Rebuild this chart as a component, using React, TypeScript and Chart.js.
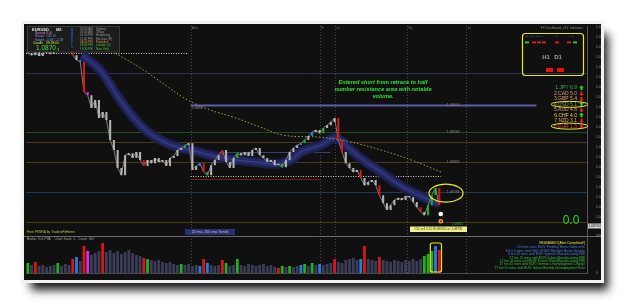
import React, { useEffect, useRef } from 'react';
import { Chart, registerables } from 'chart.js';

Chart.register(...registerables);

// ---------- DATA ----------
const SLOTS = 150;

const timeLabels = [
  '29 Feb 01:00', '29 Feb 01:25', '29 Feb 01:50', '29 Feb 02:15', '29 Feb 02:40', '29 Feb 03:05',
  '29 Feb 03:30', '29 Feb 03:55', '29 Feb 04:20', '29 Feb 04:45', '29 Feb 05:10', '29 Feb 05:35',
  '29 Feb 06:00', '29 Feb 06:25', '29 Feb 06:50', '29 Feb 07:15', '29 Feb 07:40', '29 Feb 08:05',
  '29 Feb 08:30', '29 Feb 08:55', '29 Feb 09:20', '29 Feb 09:45', '29 Feb 10:10', '29 Feb 10:35',
  '29 Feb 11:00', '29 Feb 11:25', '29 Feb 11:50', '29 Feb 12:15', '29 Feb 12:40', '29 Feb 13:05',
];

const priceTicks = [
  1.087, 1.08725, 1.0875, 1.08775, 1.088, 1.08825, 1.0885, 1.08875, 1.089, 1.08925, 1.0895,
  1.08975, 1.09, 1.09025, 1.0905, 1.09075, 1.091, 1.09125, 1.0915, 1.09175, 1.092,
];

const closes = [
  1.09135, 1.0913, 1.09138, 1.09128, 1.09135, 1.0914, 1.09133, 1.09138, 1.09148, 1.09153,
  1.09155, 1.0915, 1.0913, 1.09118, 1.09113, 1.09038, 1.0903, 1.08998, 1.09018, 1.08973,
  1.08988, 1.08968, 1.08918, 1.08893, 1.08848, 1.0883, 1.0888, 1.08885, 1.08873, 1.08888,
  1.08868, 1.08853, 1.08868, 1.0886, 1.08873, 1.08863, 1.08868, 1.08853, 1.08873, 1.08878,
  1.08893, 1.08898, 1.08905, 1.0891, 1.08843, 1.08853, 1.0886, 1.08838, 1.0883, 1.08855,
  1.08868, 1.0888, 1.08893, 1.08863, 1.08848, 1.08873, 1.08885, 1.0888, 1.08888, 1.08878,
  1.08893, 1.08898, 1.0888, 1.08873, 1.08863, 1.08868, 1.08855, 1.08858, 1.0885, 1.08868,
  1.08888, 1.08898, 1.08905, 1.0891, 1.08918, 1.08928, 1.08938, 1.08943, 1.08935, 1.08948,
  1.08955, 1.08963, 1.08973, 1.08918, 1.08888, 1.0886, 1.08848, 1.08838, 1.08843, 1.08823,
  1.08805, 1.08813, 1.08818, 1.08805, 1.0878, 1.0876, 1.08743, 1.08755, 1.08768, 1.08773,
  1.08768, 1.08778, 1.08775, 1.08763, 1.0875, 1.08738, 1.0873, 1.08755, 1.0878, 1.08798,
  1.08755,
];

const volumes = [
  100, 80, 110, 70, 80, 60, 70, 80, 100, 70, 90, 80, 140, 160, 120, 270, 220, 180, 200, 220,
  300, 210, 230, 200, 220, 190, 210, 230, 200, 180, 170, 150, 140, 130, 120, 130, 110, 100, 110, 90,
  80, 90, 80, 90, 70, 80, 70, 140, 100, 80, 70, 80, 130, 100, 70, 80, 140, 80, 70, 90,
  80, 70, 80, 90, 70, 80, 60, 50, 70, 60, 70, 60, 70, 80, 90, 70, 100, 80, 90, 80,
  90, 100, 140, 110, 100, 130, 140, 150, 130, 140, 270, 140, 130, 120, 160, 130, 120, 110, 130, 120,
  110, 130, 120, 140, 120, 140, 170, 190, 220, 270, 230,
];

const redCandles = [12, 15, 31, 47, 52, 83, 84, 89, 94, 105, 110];
const greenCandles = [42, 48, 56, 68, 74, 79, 107, 108, 109];
const blueCandles = [14, 46, 73, 76];
const magentaCandles = [16];

const redVolumes = [2, 12, 15, 20, 31, 47, 52, 67, 82, 90, 94, 110];
const greenVolumes = [0, 8, 32, 41, 53, 56, 68, 70, 74, 76, 106, 107, 108];
const blueVolumes = [13, 46, 48, 73, 78, 89, 109];
const magentaVolumes = [16];

const emaFastSlots = [14.5, 19.3, 24.7, 30.1, 35.4, 40.8, 43.5, 48.8, 54.2, 60.9, 66.3, 70.3, 73, 78.3, 82.3, 86.4, 90.4, 94.4, 99.8, 105.1, 110];
const emaFastValues = [1.0913, 1.09093, 1.09018, 1.08955, 1.08918, 1.08898, 1.08893, 1.0888, 1.0887, 1.08863, 1.08858, 1.08868, 1.08888, 1.08905, 1.08923, 1.08893, 1.08863, 1.08838, 1.08803, 1.08778, 1.08758];

const emaSlowSlots = [23.4, 30.1, 36.8, 42.7, 48.8, 55, 62.2, 68.4, 78.3, 82.3, 86.4, 94.4, 102.5, 110.5];
const emaSlowValues = [1.09135, 1.09098, 1.09055, 1.09018, 1.08993, 1.08975, 1.0895, 1.0893, 1.08925, 1.0892, 1.08913, 1.08893, 1.08868, 1.08838];

const fullLevels = [1.09085, 1.08913, 1.08938, 1.08863, 1.08788, 1.08713];
const labelledLevels = [1.09006, 1.08938, 1.08863, 1.08788];

const segLevels = [1.09135, 1.09006, 1.08888, 1.08828, 1.0882];
const segStart = [-0.5, 43.5, 43.5, 43.5, 43.5];
const segEnd = [43, 136, 81, 110.5, 78];

const sessionSlots = [43.5, 78.1, 82.1, 101.4, 117.2];
const sessionNames = ['Asia', 'Fr', 'Lo', 'Ny', 'Lo'];

const bidPrice = 1.08703;
const circleSlot = 110.4;
const exitMarkPrice = 1.08733;
const entryMarkPrice = 1.08715;
const ellipsePrice = 1.08785;
const ellipseSlot = 111.8;

const strengthNames = ['1.JPY 6.9', '2.CAD 5.0', '3.GBP 5.4', '4.USD 5.1', '5.AUD 4.6', '6.CHF 4.0', '7.NZD 3.1', '8.EUR 1.3'];
const strengthUp = [true, false, false, true, false, true, false, false];

const newsLines = [
  'RELEASED! [Alert Completed!]',
  '20 mins since EUR: Pending Home Sales m/m',
  '6 hrs 0 mins until USD: FOMC Member Bostic Speaks',
  '6 hrs 45 mins until EUR: Spanish Manufacturing PMI',
  '17 hrs 15 mins until EUR: Italian Manufacturing PMI',
  '17 hrs 45 mins until EUR: French Final Manufacturing PMI',
  '17 hrs 45 mins until EUR: German Unemployment Change',
  '17 hrs 55 mins until EUR: Italian Monthly Unemployment Rate',
];

const sessionTimes = ['03:00 AM', '07:00 AM', '07:00 PM', '11:00 PM', '08:00 PM', '08:00 PM', '13:30 PM'];
const sessionCities = ['Sydney', 'Tokyo', 'HongKong', 'Moscow (R)', 'Frankfurt', 'London (X)', 'New York'];

// ---------- STYLE ----------
const FONT = '"Liberation Sans", Arial, sans-serif';
const levelColors = ['#2a2e58', '#4a3a1a', '#1d4d1d', '#4a3a1a', '#1f3a5e', '#4a3a1a'];
const segColors = ['#cfcfcf', '#5a5fa8', '#3c4070', '#cfcfcf', '#7a1a1a'];
const segWidths = [1, 2, 1, 1, 1.2];
const segDashed = [true, false, false, true, false];
const strengthColors = ['#3cb043', '#e0a070', '#e0a070', '#8a8a3a', '#e0a070', '#e8d050', '#e0a070', '#d04030'];
const newsColors = ['#e8e840', '#4a7ae8', '#4a7ae8', '#4a7ae8', '#3ac03a', '#3ac03a', '#3ac03a', '#3ac03a'];
const timeColors = ['#999', '#999', '#999', '#999', '#e09030', '#40c040', '#40c040'];

function pick(i: number, red: number[], green: number[], blue: number[], mag: number[], base: string) {
  if (red.includes(i)) return '#d81818';
  if (green.includes(i)) return '#22b022';
  if (blue.includes(i)) return '#2080e0';
  if (mag.includes(i)) return '#d030e0';
  return base;
}

function text(ctx: CanvasRenderingContext2D, s: string, x: number, y: number, color: string, font: string, align: CanvasTextAlign = 'left') {
  ctx.fillStyle = color;
  ctx.font = font;
  ctx.textAlign = align;
  ctx.textBaseline = 'middle';
  ctx.fillText(s, x, y);
}

const framePlugin = {
  id: 'frame',
  beforeDraw(chart: any) {
    const ctx: CanvasRenderingContext2D = chart.ctx;
    const xs = chart.scales.x;
    const ys = chart.scales.y;
    const area = chart.chartArea;
    ctx.save();
    ctx.fillStyle = '#ffffff';
    ctx.fillRect(0, 0, chart.width, chart.height);
    // drop shadow
    ctx.shadowColor = 'rgba(0,0,0,0.9)';
    ctx.shadowBlur = 9;
    ctx.shadowOffsetX = 7;
    ctx.shadowOffsetY = 10;
    ctx.fillStyle = '#202020';
    ctx.fillRect(24, 24, 577, 256);
    ctx.shadowColor = 'transparent';
    ctx.fillStyle = '#f2f2f2';
    ctx.fillRect(21, 21, 583, 262);
    ctx.fillStyle = '#101010';
    ctx.fillRect(24, 24, 577, 256);

    const left = area.left;
    const right = area.right;
    // full width levels
    fullLevels.forEach((v, k) => {
      const y = Math.round(ys.getPixelForValue(v)) + 0.5;
      ctx.strokeStyle = levelColors[k];
      ctx.lineWidth = 1;
      ctx.beginPath();
      ctx.moveTo(left, y);
      ctx.lineTo(right, y);
      ctx.stroke();
    });
    // session separators
    ctx.setLineDash([1, 2]);
    ctx.strokeStyle = '#4a4a4a';
    sessionSlots.forEach((s) => {
      const x = Math.round(xs.getPixelForValue(s)) + 0.5;
      ctx.beginPath();
      ctx.moveTo(x, area.top);
      ctx.lineTo(x, area.bottom);
      ctx.stroke();
    });
    ctx.setLineDash([]);
    // partial segments
    segLevels.forEach((v, k) => {
      const y = Math.round(ys.getPixelForValue(v)) + 0.5;
      ctx.strokeStyle = segColors[k];
      ctx.lineWidth = segWidths[k];
      ctx.setLineDash(segDashed[k] ? [1, 1.5] : []);
      ctx.beginPath();
      ctx.moveTo(xs.getPixelForValue(segStart[k]), y);
      ctx.lineTo(xs.getPixelForValue(segEnd[k]), y);
      ctx.stroke();
    });
    ctx.setLineDash([]);
    // panel separator
    const sep = Math.round(chart.scales.yv.top) + 0.5;
    ctx.strokeStyle = '#6a6a6a';
    ctx.lineWidth = 1;
    ctx.beginPath();
    ctx.moveTo(24, sep);
    ctx.lineTo(601, sep);
    ctx.stroke();
    ctx.restore();
  },
  afterDraw(chart: any) {
    const ctx: CanvasRenderingContext2D = chart.ctx;
    const xs = chart.scales.x;
    const ys = chart.scales.y;
    const vs = chart.scales.yv;
    ctx.save();

    // level labels
    labelledLevels.forEach((v) => {
      text(ctx, v.toFixed(5), xs.getPixelForValue(112), ys.getPixelForValue(v), '#8a8a8a', `3.5px ${FONT}`);
    });
    text(ctx, labelledLevels[0].toFixed(5), xs.getPixelForValue(43.8), ys.getPixelForValue(labelledLevels[0]) + 3, '#8a8a8a', `3px ${FONT}`);

    // session names
    sessionSlots.forEach((s, k) => {
      text(ctx, sessionNames[k], xs.getPixelForValue(s) + 1.5, 28, '#777', `3px ${FONT}`);
    });

    // info box
    ctx.fillStyle = '#1c1c1c';
    ctx.fillRect(27, 26.5, 92, 25.5);
    ctx.strokeStyle = '#3a3a3a';
    ctx.strokeRect(27.5, 26.5, 92, 25.5);
    text(ctx, 'EURUSD', 32, 29.5, '#e0e0e0', `bold 4px ${FONT}`);
    text(ctx, 'M5', 56, 29.5, '#e0e0e0', `bold 4px ${FONT}`);
    text(ctx, 'Spread', 35, 33, '#d080d0', `3.2px ${FONT}`);
    text(ctx, '0.00', 46, 33, '#d080d0', `3.2px ${FONT}`);
    text(ctx, 'Range', 35, 36.5, '#a070e0', `3.2px ${FONT}`);
    text(ctx, '108.19', 46, 36.5, '#7090e0', `3.2px ${FONT}`);
    text(ctx, 'Swaps', 35, 40, '#60a0e0', `3.2px ${FONT}`);
    text(ctx, '-0.69 / -2.28', 46, 40, '#60a0e0', `3.2px ${FONT}`);
    text(ctx, 'Candle', 33, 43.5, '#e0e040', `3.2px ${FONT}`);
    text(ctx, '03:18:00', 46, 43.5, '#e0e040', `3.2px ${FONT}`);
    text(ctx, '1.0870', 36, 48.5, '#40e040', `6.5px ${FONT}`);
    text(ctx, '3', 57, 49.5, '#40e040', `4px ${FONT}`);
    'MARKETS'.split('').forEach((c, k) => {
      text(ctx, c, 72, 30 + k * 2.8, '#3050c0', `bold 3px ${FONT}`, 'center');
    });
    sessionTimes.forEach((t, k) => {
      text(ctx, t, 80, 29 + k * 3.3, timeColors[k], `3px ${FONT}`);
      text(ctx, sessionCities[k], 96, 29 + k * 3.3, timeColors[k], `3px ${FONT}`);
    });

    // annotation text
    const ann = ['Entered short from retrace to half', 'number resistance area with notable', 'volume.'];
    ann.forEach((s, k) => text(ctx, s, 383, 82 + k * 7, '#30e030', `italic bold 5.6px ${FONT}`, 'center'));

    // dashboard
    text(ctx, 'FX: Dashboard_v3.4_Indicators', 583, 28, '#8a8a8a', `3px ${FONT}`, 'right');
    ctx.strokeStyle = '#e8e820';
    ctx.lineWidth = 1.2;
    ctx.beginPath();
    (ctx as any).roundRect(522.5, 33.5, 61, 42, 3);
    ctx.stroke();
    text(ctx, 'M1 M5 M15M30', 525, 36.5, '#6a6a9a', `2.5px ${FONT}`);
    text(ctx, 'H1', 555, 36.5, '#6a6a9a', `2.5px ${FONT}`);
    text(ctx, 'H4 D1', 567, 36.5, '#6a6a9a', `2.5px ${FONT}`);
    const dashX = [525, 532, 537, 542, 555, 567, 573];
    const dashC = ['#22dd22', '#e02020', '#e02020', '#e02020', '#e02020', '#e02020', '#22dd22'];
    dashX.forEach((x, k) => { ctx.fillStyle = dashC[k]; ctx.fillRect(x, 41.5, 4, 1.8); });
    text(ctx, 'H1', 546, 57, '#a0a0a0', `bold 6px ${FONT}`, 'center');
    text(ctx, 'D1', 558, 57, '#a0a0a0', `bold 6px ${FONT}`, 'center');
    ctx.fillStyle = '#ee1010';
    ctx.fillRect(546, 68, 7, 4);
    ctx.fillRect(557, 68, 7, 4);

    // currency strength
    strengthNames.forEach((s, k) => {
      const y = 88 + k * 5.45;
      text(ctx, s, 577, y, strengthColors[k], `5px ${FONT}`, 'right');
      const up = strengthUp[k];
      ctx.fillStyle = up ? '#22dd22' : '#ee2020';
      ctx.beginPath();
      if (up) { ctx.moveTo(580.5, y + 2); ctx.lineTo(580.5, y - 0.5); ctx.lineTo(579, y - 0.5); ctx.lineTo(581.5, y - 2.5); ctx.lineTo(584, y - 0.5); ctx.lineTo(582.5, y - 0.5); ctx.lineTo(582.5, y + 2); }
      else { ctx.moveTo(580.5, y - 2); ctx.lineTo(580.5, y + 0.5); ctx.lineTo(579, y + 0.5); ctx.lineTo(581.5, y + 2.5); ctx.lineTo(584, y + 0.5); ctx.lineTo(582.5, y + 0.5); ctx.lineTo(582.5, y - 2); }
      ctx.closePath();
      ctx.fill();
    });
    ctx.strokeStyle = '#e8e820';
    ctx.lineWidth = 1;
    [3, 7].forEach((k) => {
      const y = 88 + k * 5.45;
      ctx.beginPath();
      ctx.ellipse(569.5, y, 18.5, 3, 0, 0, Math.PI * 2);
      ctx.stroke();
    });

    // big 0.0
    text(ctx, '0.0', 571, 221, '#22dd22', `12px ${FONT}`, 'center');

    // ellipse around retrace
    ctx.strokeStyle = '#e8e820';
    ctx.lineWidth = 1.2;
    ctx.beginPath();
    ctx.ellipse(xs.getPixelForValue(ellipseSlot), ys.getPixelForValue(ellipsePrice), 17, 9, 0, 0, Math.PI * 2);
    ctx.stroke();

    // trade markers
    const cx = xs.getPixelForValue(circleSlot);
    ctx.fillStyle = '#ffffff';
    ctx.beginPath(); ctx.arc(cx, ys.getPixelForValue(exitMarkPrice), 2.3, 0, Math.PI * 2); ctx.fill();
    ctx.fillStyle = '#e8c020';
    ctx.beginPath(); ctx.arc(cx, ys.getPixelForValue(entryMarkPrice), 2.3, 0, Math.PI * 2); ctx.fill();
    ctx.fillStyle = '#e02020';
    ctx.beginPath(); ctx.arc(cx, ys.getPixelForValue(entryMarkPrice), 1.2, 0, Math.PI * 2); ctx.fill();
    ctx.fillStyle = '#f0f090';
    ctx.fillRect(410, 226.5, 57, 5.5);
    text(ctx, '#52 sell 0.10 EURUSD at 1.08781', 438.5, 229.3, '#404000', `3.2px ${FONT}`, 'center');
    text(ctx, '1.08781', 452, 224.5, '#30c030', `3px ${FONT}`);

    // bid label on axis
    const by = ys.getPixelForValue(bidPrice);
    ctx.fillStyle = '#d0d0d0';
    ctx.fillRect(588, by - 2.5, 13, 5);
    text(ctx, bidPrice.toFixed(5), 594.5, by, '#202020', `3.5px ${FONT}`, 'center');

    // bottom-left labels
    text(ctx, 'Free PVSRA by TradersFxHome', 27, 232, '#c8c840', `3.3px ${FONT}`);
    ctx.fillStyle = '#283070';
    ctx.fillRect(185, 229, 50, 6);
    text(ctx, '20 ema, 200 ema Trends', 210, 232, '#c0c0d0', `3.3px ${FONT}`, 'center');
    text(ctx, 'Broker Tick PVA    Chart Scale  2,  Count  300', 27, 239.5, '#a0a0a0', `3.3px ${FONT}`);

    // volume highlight rect
    ctx.strokeStyle = '#e8e820';
    ctx.lineWidth = 1.2;
    const rx0 = xs.getPixelForValue(107.6);
    const rx1 = xs.getPixelForValue(110.6);
    const ry0 = vs.getPixelForValue(300);
    const ry1 = vs.getPixelForValue(10);
    ctx.beginPath();
    (ctx as any).roundRect(rx0, ry0, rx1 - rx0, ry1 - ry0, 2);
    ctx.stroke();

    // news lines
    const newsY = [243.3, 247.5, 251, 254.5, 258, 261.2, 264.4, 267.6];
    newsLines.forEach((s, k) => text(ctx, s, 585, newsY[k], newsColors[k], `3.3px ${FONT}`, 'right'));

    ctx.restore();
  },
};

export default function App() {
  const ref = useRef<HTMLCanvasElement | null>(null);
  useEffect(() => {
    document.body.style.margin = '0';
    const canvas = ref.current;
    if (!canvas) return;
    const closePts = closes.map((c, i) => ({ x: i, y: c }));
    const candlePts = closes.map((c, i) => ({ x: i, y: [i === 0 ? c : closes[i - 1], c] }));
    const candleColors = closes.map((_, i) => pick(i, redCandles, greenCandles, blueCandles, magentaCandles, '#b4b4b4'));
    const volPts = volumes.map((v, i) => ({ x: i, y: v }));
    const volColors = volumes.map((_, i) => pick(i, redVolumes, greenVolumes, blueVolumes, magentaVolumes, '#3b3d58'));
    const fastPts = emaFastSlots.map((s, k) => ({ x: s, y: emaFastValues[k] }));
    const slowPts = emaSlowSlots.map((s, k) => ({ x: s, y: emaSlowValues[k] }));

    const tickFont = { size: 3.4, family: FONT };
    const chart = new Chart(canvas, {
      data: {
        datasets: [
          { type: 'line', data: fastPts, borderColor: '#1b1e4c', borderWidth: 10, pointRadius: 0, tension: 0.4, order: 10, yAxisID: 'y' },
          { type: 'line', data: fastPts, borderColor: '#252a66', borderWidth: 6, pointRadius: 0, tension: 0.4, order: 9, yAxisID: 'y' },
          { type: 'line', data: fastPts, borderColor: '#3c448e', borderWidth: 1, pointRadius: 0, tension: 0.4, order: 8, yAxisID: 'y' },
          { type: 'line', data: slowPts, borderColor: '#a8a040', borderWidth: 1, borderDash: [1.5, 2], pointRadius: 0, tension: 0.4, order: 7, yAxisID: 'y' },
          { type: 'line', data: closePts, borderColor: '#7c7c7c', borderWidth: 1, pointRadius: 0, tension: 0, order: 6, yAxisID: 'y' },
          { type: 'bar', data: candlePts, backgroundColor: candleColors, barPercentage: 0.55, categoryPercentage: 1, grouped: false, minBarLength: 1, order: 5, yAxisID: 'y' },
          { type: 'bar', data: volPts, backgroundColor: volColors, barPercentage: 0.75, categoryPercentage: 1, grouped: false, order: 5, yAxisID: 'yv' },
        ],
      } as any,
      options: {
        responsive: false,
        animation: false,
        events: [],
        layout: { padding: { left: 26, top: 26, right: 24, bottom: 24 } },
        plugins: { legend: { display: false }, tooltip: { enabled: false } },
        scales: {
          x: {
            type: 'linear',
            offset: false,
            min: -0.5,
            max: SLOTS - 0.5,
            position: 'bottom',
            grid: { display: false, offset: false },
            border: { color: '#4a4a4a' },
            ticks: {
              font: tickFont, color: '#8a8a8a', padding: 1, maxRotation: 0, autoSkip: false, align: 'start',
              callback: (v: any) => timeLabels[Math.round(Number(v) / 5)] ?? '',
            },
            afterBuildTicks: (s: any) => { s.ticks = timeLabels.map((_, k) => ({ value: k * 5 })); },
            afterFit: (s: any) => { s.height = 7; },
          },
          y: {
            type: 'linear',
            position: 'right',
            stack: 'panes',
            stackWeight: 210,
            min: 1.08678,
            max: 1.09203,
            grid: { display: false },
            border: { color: '#555' },
            ticks: {
              font: tickFont, color: '#9a9a9a', padding: 1, autoSkip: false,
              callback: (v: any) => Number(v).toFixed(5),
            },
            afterBuildTicks: (s: any) => { s.ticks = priceTicks.map((v) => ({ value: v })); },
            afterFit: (s: any) => { s.width = 14; },
          },
          yv: {
            type: 'linear',
            position: 'right',
            stack: 'panes',
            stackWeight: 37,
            min: 0,
            max: 370,
            grid: { display: false },
            border: { color: '#555' },
            ticks: { font: tickFont, color: '#9a9a9a', padding: 1, autoSkip: false },
            afterBuildTicks: (s: any) => { s.ticks = [{ value: 0 }, { value: 370 }]; },
            afterFit: (s: any) => { s.width = 14; },
          },
        },
      } as any,
      plugins: [framePlugin],
    });
    return () => chart.destroy();
  }, []);
  return (
    <div style={{ position: 'fixed', left: 0, top: 0, width: 625, height: 304 }}>
      <canvas ref={ref} width={625} height={304} style={{ display: 'block' }} />
    </div>
  );
}
